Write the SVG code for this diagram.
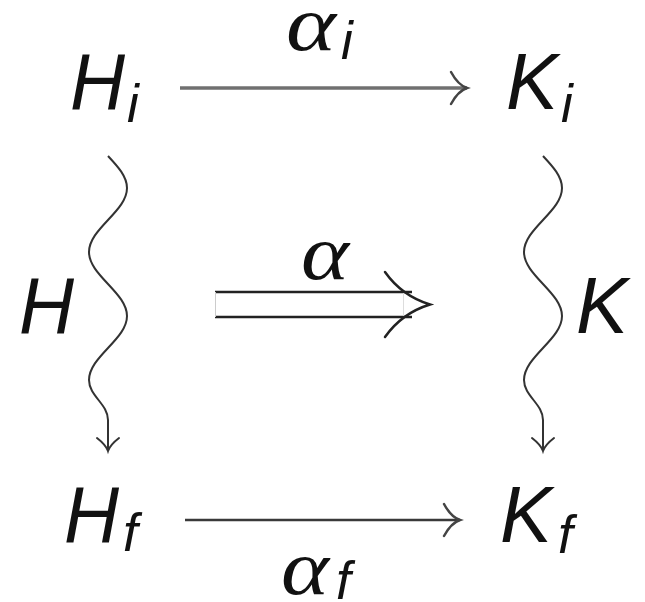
<svg xmlns="http://www.w3.org/2000/svg" width="645" height="602" viewBox="0 0 645 602">
<style>
.m{font-family:"Liberation Sans",Arial,sans-serif;font-style:italic;font-size:80px;fill:#111}
.s{font-family:"Liberation Sans",Arial,sans-serif;font-style:italic;font-size:53px;fill:#111}
.g{font-family:"Liberation Serif","Times New Roman",serif;font-style:italic;font-size:78px;fill:#111}
.wv{fill:none;stroke:#333;stroke-width:2}
</style>
<defs>
<marker id="to" markerUnits="userSpaceOnUse" viewBox="-20 -20 24 40" refX="0" refY="0" markerWidth="24" markerHeight="40" orient="auto">
<path d="M-16,-16 Q-9,-3 0,0 Q-9,3 -16,16" fill="none" stroke="#444" stroke-width="2.5" stroke-linecap="round"/>
</marker>
<marker id="wt" markerUnits="userSpaceOnUse" viewBox="-16 -14 20 28" refX="0" refY="0" markerWidth="20" markerHeight="28" orient="auto">
<path d="M-13,-11 Q-6,-2 0,0 Q-6,2 -13,11" fill="none" stroke="#333" stroke-width="2" stroke-linecap="round"/>
</marker>
</defs>
<rect width="645" height="602" fill="#fff"/>
<g id="connectors">
<g id="e-alpha-i">
<line x1="180" y1="88" x2="467" y2="88" stroke="#707070" stroke-width="3.5" marker-end="url(#to)"/>
<text class="g" x="286" y="50" textLength="50" lengthAdjust="spacingAndGlyphs">α</text><text class="s" x="341" y="59">i</text>
</g>
<g id="e-alpha-f">
<line x1="185" y1="520" x2="460" y2="520" stroke="#3a3a3a" stroke-width="2.5" marker-end="url(#to)"/>
<text class="g" x="281" y="594" textLength="48" lengthAdjust="spacingAndGlyphs">α</text><text class="s" x="336" y="599">f</text>
</g>
<g id="e-H">
<path class="wv" d="M108,156 C117.9,166.6 127,176.5 127,188 S117.9,209.4 108,220 S89,240.5 89,252 S98.1,273.4 108,284 S127,304.5 127,316 S117.9,337.4 108,348 S89,368.5 89,380 C89,396 108,404 108,420 L108,451" marker-end="url(#wt)"/>
<text class="m" x="19" y="333" textLength="55" lengthAdjust="spacingAndGlyphs">H</text>
</g>
<g id="e-K">
<path class="wv" d="M543,156 C552.9,166.6 562,176.5 562,188 S552.9,209.4 543,220 S524,240.5 524,252 S533.1,273.4 543,284 S562,304.5 562,316 S552.9,337.4 543,348 S524,368.5 524,380 C524,396 543,404 543,420 L543,451" marker-end="url(#wt)"/>
<text class="m" x="576" y="333" textLength="52" lengthAdjust="spacingAndGlyphs">K</text>
</g>
<g id="e-alpha">
<line x1="215" y1="292" x2="412" y2="292" stroke="#222" stroke-width="2.5"/>
<line x1="215" y1="317" x2="412" y2="317" stroke="#222" stroke-width="2.5"/>
<line x1="215.5" y1="292" x2="215.5" y2="317" stroke="#ccc" stroke-width="1"/>
<line x1="403.5" y1="293" x2="403.5" y2="316" stroke="#ddd" stroke-width="1"/>
<path d="M385,272 Q402,296 430,304.5 Q402,313 385,337" fill="none" stroke="#222" stroke-width="2.5" stroke-linecap="round"/>
<text class="g" x="301" y="279" textLength="48" lengthAdjust="spacingAndGlyphs">α</text>
</g>
</g>
<g id="Hi"><text class="m" x="70" y="109" textLength="55" lengthAdjust="spacingAndGlyphs">H</text><text class="s" x="127" y="122">i</text></g>
<g id="Ki"><text class="m" x="506" y="109" textLength="52" lengthAdjust="spacingAndGlyphs">K</text><text class="s" x="561" y="122">i</text></g>
<g id="Hf"><text class="m" x="64" y="542" textLength="55" lengthAdjust="spacingAndGlyphs">H</text><text class="s" x="123" y="551">f</text></g>
<g id="Kf"><text class="m" x="500" y="542" textLength="52" lengthAdjust="spacingAndGlyphs">K</text><text class="s" x="558" y="553">f</text></g>
</svg>
